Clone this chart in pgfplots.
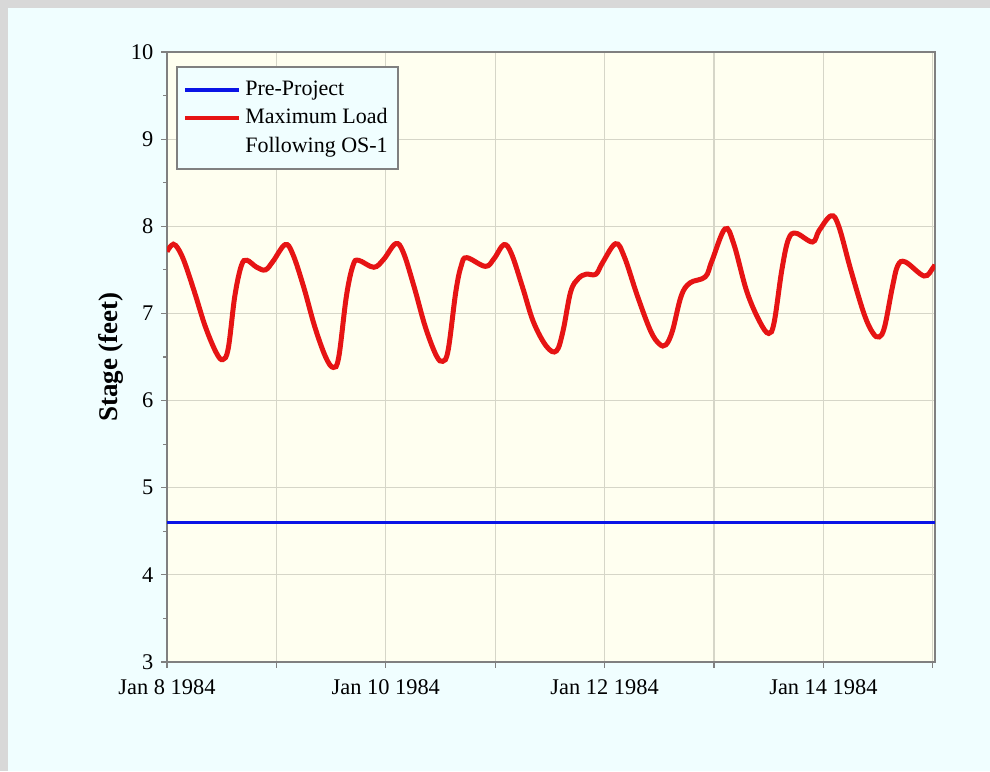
\documentclass[border=0pt]{standalone}
\usepackage{fontspec}
\setmainfont{Liberation Serif}
\usepackage{pgfplots}
\pgfplotsset{compat=1.18}
\definecolor{bgcyan}{HTML}{F0FEFF}
\definecolor{plotbg}{HTML}{FFFFF0}
\definecolor{gridc}{HTML}{D6D6C8}
\definecolor{framec}{HTML}{808080}
\definecolor{shadow}{HTML}{D8D8D8}
\definecolor{myblue}{HTML}{0A14E6}
\definecolor{myred}{HTML}{E61414}
\begin{document}
\fontsize{11pt}{13pt}\selectfont
\begin{tikzpicture}
\path[use as bounding box] (0,0) rectangle (495pt,385.5pt);
\fill[shadow] (0,0) rectangle (495pt,385.5pt);
\fill[bgcyan] (4pt,0) rectangle (495pt,381.5pt);
\begin{axis}[
  at={(83.5pt,54.5pt)}, anchor=south west,
  scale only axis, width=384pt, height=305pt,
  xmin=0, xmax=7.02, ymin=3, ymax=10,
  xtick={0,1,2,3,4,5,6,7},
  xticklabels={Jan 8 1984,,Jan 10 1984,,Jan 12 1984,,Jan 14 1984,},
  ytick={3,4,5,6,7,8,9,10},
  minor y tick num=1,
  grid=major,
  major grid style={gridc, line width=0.6pt},
  axis line style={framec, line width=1.1pt},
  tick style={framec, line width=0.6pt},
  major tick length=3pt, minor tick length=2pt,
  tick align=outside,
  xtick pos=bottom, ytick pos=left,
  axis background/.style={fill=plotbg},
  /pgf/number format/assume math mode=true,
  ticklabel style={font=\fontsize{11.2pt}{13pt}\selectfont, text=black},
  xticklabel style={yshift=-2pt},
  ylabel={\textbf{Stage (feet)}},
  ylabel style={font=\fontsize{13.5pt}{15pt}\selectfont, yshift=-4pt},
  legend style={at={(0.012,0.977)}, anchor=north west, fill=bgcyan,
    draw=framec, line width=1.1pt, font=\fontsize{11pt}{13pt}\selectfont,
    row sep=0.8pt, inner xsep=3pt, inner ysep=5pt},
  legend cell align=left,
  legend image post style={line width=2pt},
  legend image code/.code={\draw[#1] (0pt,0pt) -- (27pt,0pt);},
]
\addplot[myblue, line width=1.8pt] coordinates {(0,4.6) (7.02,4.6)};
\addlegendentry{Pre-Project}
\addplot[myred, line width=2.5pt, smooth, tension=0.6] coordinates {
(0.00,7.71) (0.04,7.78) (0.08,7.78) (0.15,7.62) (0.25,7.25) (0.35,6.85)
(0.45,6.55) (0.51,6.47) (0.56,6.60) (0.62,7.20) (0.68,7.55) (0.73,7.61)
(0.82,7.53) (0.90,7.50) (0.97,7.60) (1.08,7.79) (1.15,7.68) (1.25,7.30)
(1.35,6.85) (1.45,6.50) (1.52,6.38) (1.57,6.50) (1.64,7.20) (1.70,7.55)
(1.75,7.61) (1.89,7.53) (1.98,7.62) (2.09,7.80) (2.16,7.70) (2.26,7.30)
(2.36,6.85) (2.46,6.52) (2.52,6.45) (2.57,6.58) (2.64,7.25) (2.69,7.55)
(2.74,7.64) (2.91,7.54) (2.99,7.63) (3.08,7.79) (3.15,7.68) (3.25,7.30)
(3.35,6.90) (3.47,6.62) (3.56,6.57) (3.62,6.80) (3.69,7.25) (3.76,7.40)
(3.83,7.45) (3.92,7.45) (3.98,7.58) (4.10,7.80) (4.18,7.65) (4.30,7.20)
(4.42,6.80) (4.50,6.65) (4.56,6.64) (4.62,6.80) (4.70,7.20) (4.78,7.35)
(4.92,7.42) (4.98,7.60) (5.10,7.97) (5.18,7.80) (5.30,7.25) (5.42,6.90)
(5.50,6.77) (5.55,6.90) (5.62,7.50) (5.68,7.85) (5.75,7.92) (5.90,7.82)
(5.96,7.95) (6.07,8.12) (6.14,8.00) (6.25,7.50) (6.37,7.00) (6.45,6.78)
(6.51,6.73) (6.56,6.85) (6.63,7.30) (6.68,7.55) (6.75,7.59) (6.92,7.43)
(7.00,7.52) (7.02,7.56)};
\addlegendentry{Maximum Load}
\addlegendimage{empty legend}
\addlegendentry{Following OS-1}
\end{axis}
\end{tikzpicture}
\end{document}
